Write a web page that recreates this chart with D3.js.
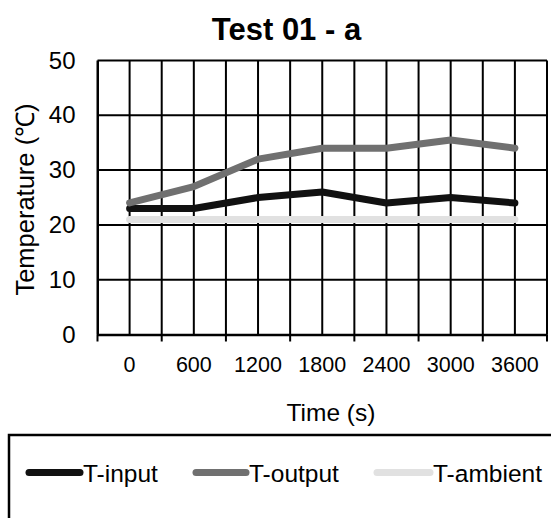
<!DOCTYPE html>
<html>
<head>
<meta charset="utf-8">
<script src="https://cdn.jsdelivr.net/npm/d3@7"></script>
<style>
  html, body { margin: 0; padding: 0; background: #fff; }
  svg { display: block; }
  svg text { font-family: "Liberation Sans", Arial, Helvetica, sans-serif; fill: #000; }
</style>
</head>
<body>
<svg id="chart" width="551" height="518"></svg>
<script>
const categories = ["0", "600", "1200", "1800", "2400", "3000", "3600"];
const tInput = [23, 23, 25, 26, 24, 25, 24];
const tOutput = [24, 27, 32, 34, 34, 35.5, 34];
const tAmbient = [21, 21, 21, 21, 21, 21, 21];
const yTicks = [0, 10, 20, 30, 40, 50];
const seriesNames = ["T-input", "T-output", "T-ambient"];
const seriesColors = ["#111111", "#707070", "#e1e1e1"];
const seriesData = [tInput, tOutput, tAmbient];

const svg = d3.select("#chart");
const pLeft = 97.5, pRight = 547, pTop = 60.5, pBottom = 334.5;
const FONT = "'Liberation Sans', Arial, Helvetica, sans-serif";

const x = d3.scaleBand().domain(categories).range([pLeft, pRight]).padding(0);
const y = d3.scaleLinear().domain([0, 50]).range([pBottom, pTop]);
const bw = x.bandwidth();

// Title
svg.append("text").attr("x", 286.5).attr("y", 40).attr("text-anchor", "middle")
  .style("font-family", FONT)
  .attr("font-size", 31).attr("font-weight", "bold").text("Test 01 - a");

// Grid: vertical lines at band edges and centers
const vx = [];
categories.forEach(c => { vx.push(x(c)); vx.push(x(c) + bw / 2); });
vx.push(pRight);
svg.append("g").selectAll("line").data(vx).join("line")
  .attr("x1", d => d).attr("x2", d => d).attr("y1", pTop).attr("y2", pBottom)
  .attr("stroke", "#000").attr("stroke-width", 2);

// Horizontal gridlines
svg.append("g").selectAll("line").data(yTicks.filter(t => t > 0)).join("line")
  .attr("x1", pLeft).attr("x2", pRight).attr("y1", d => y(d)).attr("y2", d => y(d))
  .attr("stroke", "#000").attr("stroke-width", 2);

// Y axis
const yAxis = svg.append("g").attr("transform", `translate(${pLeft},0)`)
  .call(d3.axisLeft(y).tickValues(yTicks).tickSize(0).tickPadding(22));
yAxis.attr("font-family", null);
yAxis.select(".domain").attr("stroke", "#000").attr("stroke-width", 2);
yAxis.selectAll("text").style("font-family", FONT).attr("font-size", 24);

// X axis
const xAxis = svg.append("g").attr("transform", `translate(0,${pBottom})`)
  .call(d3.axisBottom(x).tickSize(0).tickPadding(22));
xAxis.attr("font-family", null);
xAxis.select(".domain").attr("stroke", "#000").attr("stroke-width", 2.5);
xAxis.selectAll("text").style("font-family", FONT).attr("font-size", 21.5);
// tick marks at band boundaries
const bx = categories.map(c => x(c)).concat([pRight]);
svg.append("g").selectAll("line").data(bx).join("line")
  .attr("x1", d => d).attr("x2", d => d).attr("y1", pBottom).attr("y2", pBottom + 7)
  .attr("stroke", "#000").attr("stroke-width", 2);

// Axis titles
svg.append("text").attr("x", 331).attr("y", 421).attr("text-anchor", "middle")
  .style("font-family", FONT).attr("font-size", 24.5).text("Time (s)");
svg.append("text").attr("transform", `translate(34,${(pTop + pBottom) / 2 + 2}) rotate(-90)`)
  .style("font-family", FONT)
  .attr("text-anchor", "middle").attr("font-size", 25.5).text("Temperature (℃)");

// Series lines (ambient drawn first so others are on top)
const line = d3.line().x((d, i) => x(categories[i]) + bw / 2).y(d => y(d));
[2, 0, 1].forEach(k => {
  svg.append("path").datum(seriesData[k]).attr("d", line)
    .attr("fill", "none").attr("stroke", seriesColors[k]).attr("stroke-width", 7)
    .attr("stroke-linejoin", "round").attr("stroke-linecap", "round");
});

// Legend
svg.append("rect").attr("x", 9).attr("y", 435).attr("width", 560).attr("height", 100)
  .attr("fill", "none").attr("stroke", "#000").attr("stroke-width", 2.5);
const legX = [[29, 80], [196, 246], [377, 430]];
seriesNames.forEach((n, i) => {
  svg.append("line").attr("x1", legX[i][0]).attr("x2", legX[i][1])
    .attr("y1", 472.5).attr("y2", 472.5)
    .attr("stroke", seriesColors[i]).attr("stroke-width", 7).attr("stroke-linecap", "round");
  svg.append("text").attr("x", legX[i][1] + 3).attr("y", 481.5)
    .style("font-family", FONT).attr("font-size", 24.5).text(n);
});
</script>
</body>
</html>
